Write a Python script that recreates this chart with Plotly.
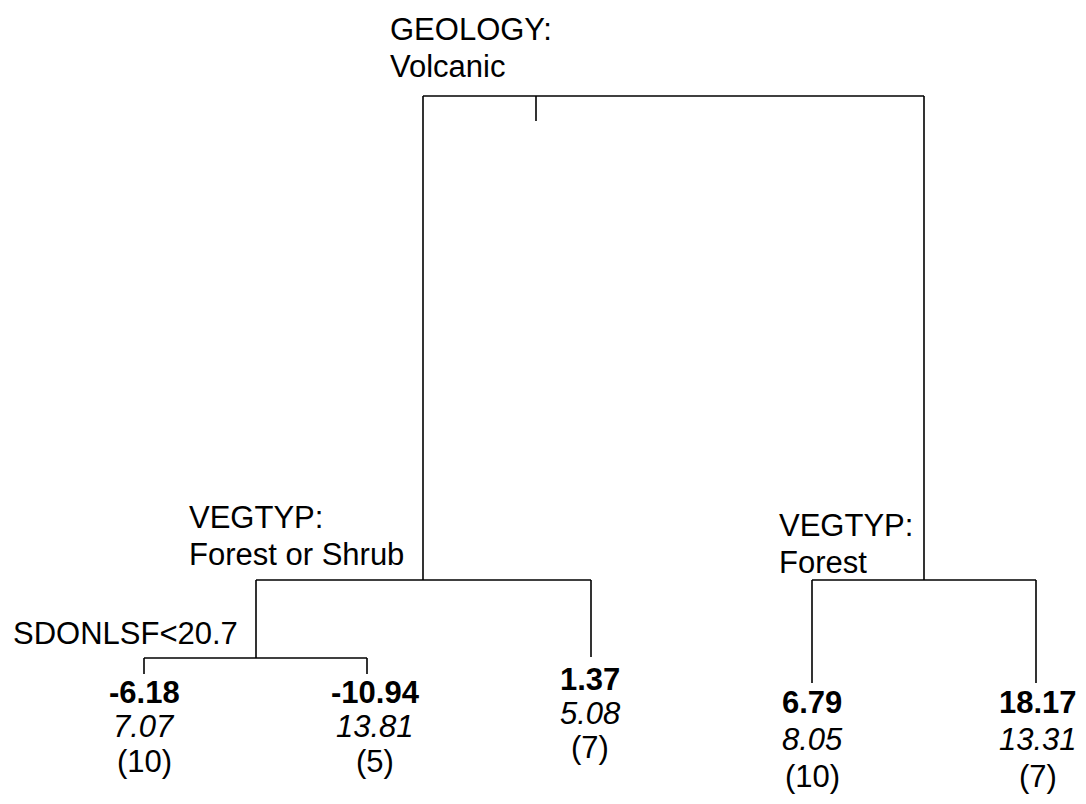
import plotly.graph_objects as go

# ---- data (tree values) ----
split_lines = [["GEOLOGY:", "Volcanic"],
               ["VEGTYP:", "Forest or Shrub"],
               ["SDONLSF<20.7"],
               ["VEGTYP:", "Forest"]]
leaf_means = ["-6.18", "-10.94", "1.37", "6.79", "18.17"]
leaf_sds = ["7.07", "13.81", "5.08", "8.05", "13.31"]
leaf_counts = [10, 5, 7, 10, 7]

# ---- layout positions (pixel coordinates) ----
W, H = 1086, 804
root = dict(xl=423, xr=924, y=96, tick_x=536, tick_y2=121)
nodeA = dict(x=423, y=580, xl=256, xr=591)    # left subtree split
nodeB = dict(x=924, y=580, xl=812, xr=1036)   # right subtree split
nodeC = dict(x=256, y=658, xl=144, xr=367)    # SDONLSF split
leaf_x = [144, 367, 591, 812, 1036]
leaf_bottom = [674, 674, 657, 683, 683]
leaf_text_x = [144, 375, 590, 812, 1038]
leaf_text_y = [692, 692, 679, 702, 702]
leaf_gap = [34.5, 34.5, 34, 37, 37]
split_pos = [(389, 29), (188, 517), (12, 633), (778, 525)]
split_gap = 37

xs, ys = [], []
def seg(x0, y0, x1, y1):
    xs.extend([x0, x1, None]); ys.extend([y0, y1, None])

# root
seg(root["xl"], root["y"], root["xr"], root["y"])
seg(root["tick_x"], root["y"], root["tick_x"], root["tick_y2"])
seg(root["xl"], root["y"], nodeA["x"], nodeA["y"])
seg(root["xr"], root["y"], nodeB["x"], nodeB["y"])
# node A
seg(nodeA["xl"], nodeA["y"], nodeA["xr"], nodeA["y"])
seg(nodeA["xl"], nodeA["y"], nodeC["x"], nodeC["y"])
seg(nodeA["xr"], nodeA["y"], leaf_x[2], leaf_bottom[2])
# node C
seg(nodeC["xl"], nodeC["y"], nodeC["xr"], nodeC["y"])
seg(nodeC["xl"], nodeC["y"], leaf_x[0], leaf_bottom[0])
seg(nodeC["xr"], nodeC["y"], leaf_x[1], leaf_bottom[1])
# node B
seg(nodeB["xl"], nodeB["y"], nodeB["xr"], nodeB["y"])
seg(nodeB["xl"], nodeB["y"], leaf_x[3], leaf_bottom[3])
seg(nodeB["xr"], nodeB["y"], leaf_x[4], leaf_bottom[4])

fig = go.Figure()
fig.add_trace(go.Scatter(x=xs, y=ys, mode="lines",
                         line=dict(color="black", width=1.6),
                         hoverinfo="skip", showlegend=False))

FONT = "Liberation Sans, Arial, sans-serif"
FS = 31
anns = []
def txt(x, y, s, anchor):
    anns.append(dict(x=x, y=y, text=s, xanchor=anchor, yanchor="middle",
                     showarrow=False, borderpad=0,
                     font=dict(family=FONT, size=FS, color="black")))

for lines, (x, y) in zip(split_lines, split_pos):
    for k, s in enumerate(lines):
        txt(x, y + k * split_gap, s, "left")
for i in range(len(leaf_means)):
    x = leaf_text_x[i]; y = leaf_text_y[i]; g = leaf_gap[i]
    txt(x, y, "<b>%s</b>" % leaf_means[i], "center")
    txt(x, y + g, "<i>%s</i>" % leaf_sds[i], "center")
    txt(x, y + 2 * g, "(%d)" % leaf_counts[i], "center")

fig.update_layout(
    width=W, height=H,
    margin=dict(l=0, r=0, t=0, b=0),
    paper_bgcolor="white", plot_bgcolor="white",
    xaxis=dict(range=[0, W], visible=False, fixedrange=True),
    yaxis=dict(range=[H, 0], visible=False, fixedrange=True),
    annotations=anns,
    showlegend=False,
)
fig.write_html("out.html")
